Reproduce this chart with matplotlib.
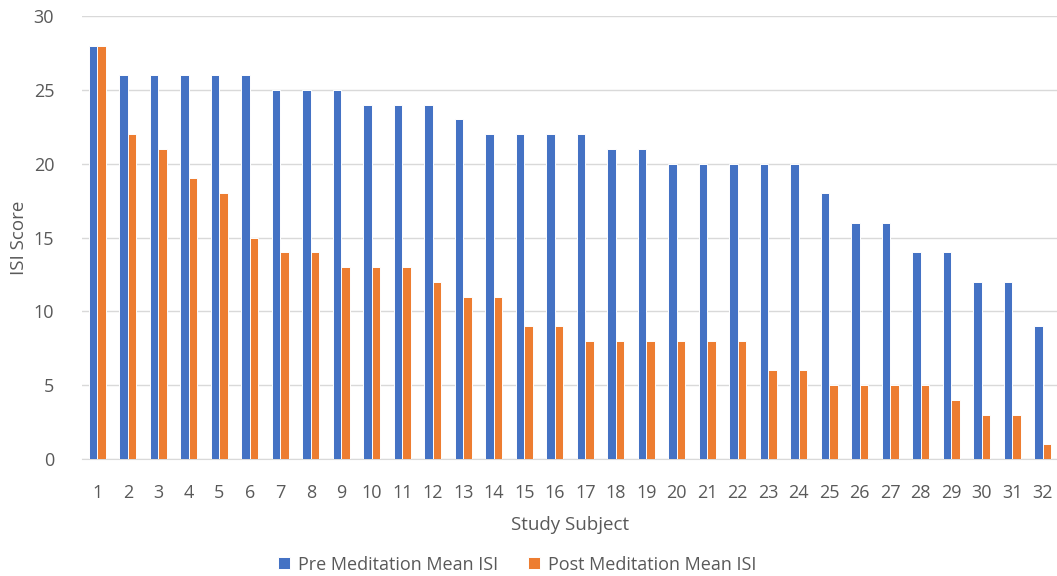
import matplotlib
matplotlib.use("Agg")
import matplotlib.pyplot as plt
import numpy as np

subjects = [str(i) for i in range(1, 33)]
pre = [28, 26, 26, 26, 26, 26, 25, 25, 25, 24, 24, 24, 23, 22, 22, 22,
       22, 21, 21, 20, 20, 20, 20, 20, 18, 16, 16, 14, 14, 12, 12, 9]
post = [28, 22, 21, 19, 18, 15, 14, 14, 13, 13, 13, 12, 11, 11, 9, 9,
        8, 8, 8, 8, 8, 8, 6, 6, 5, 5, 5, 5, 4, 3, 3, 1]
yticks = [0, 5, 10, 15, 20, 25, 30]

plt.rcParams['font.family'] = ['Open Sans', 'DejaVu Sans']
fig = plt.figure(figsize=(10.57, 5.76), dpi=100)
ax = fig.add_axes([0.0776, 0.2031, 0.9234, 0.7691])

x = np.arange(len(subjects))
w = 0.28
ax.bar(x - w / 2, pre, width=w, color='#4472C4', edgecolor='white', linewidth=0.7,
       label='Pre Meditation Mean ISI', zorder=3)
ax.bar(x + w / 2, post, width=w, color='#ED7D31', edgecolor='white', linewidth=0.7,
       label='Post Meditation Mean ISI', zorder=3)

ax.set_xlim(-0.5, len(subjects) - 0.5)
ax.set_ylim(0, 30)
ax.set_yticks(yticks)
ax.set_xticks(x)
ax.set_xticklabels(subjects)
ax.grid(axis='y', color='#D9D9D9', linewidth=1, zorder=0)
for s in ['top', 'right', 'left']:
    ax.spines[s].set_visible(False)
ax.spines['bottom'].set_color('#D9D9D9')
ax.tick_params(axis='both', length=0, labelsize=13, colors='#595959')
ax.tick_params(axis='x', pad=18)
ax.tick_params(axis='y', pad=20)
ax.set_xlabel('Study Subject', fontsize=13.5, color='#595959', labelpad=10)
ax.set_ylabel('ISI Score', fontsize=13.5, color='#595959', labelpad=4)

ax.legend(loc='upper center', bbox_to_anchor=(0.446, -0.194), ncol=2, frameon=False,
          fontsize=13, labelcolor='#595959', handlelength=0.65, handleheight=0.65,
          columnspacing=1.65, handletextpad=0.45, borderaxespad=0.2)

fig.savefig('out.png', dpi=100)
